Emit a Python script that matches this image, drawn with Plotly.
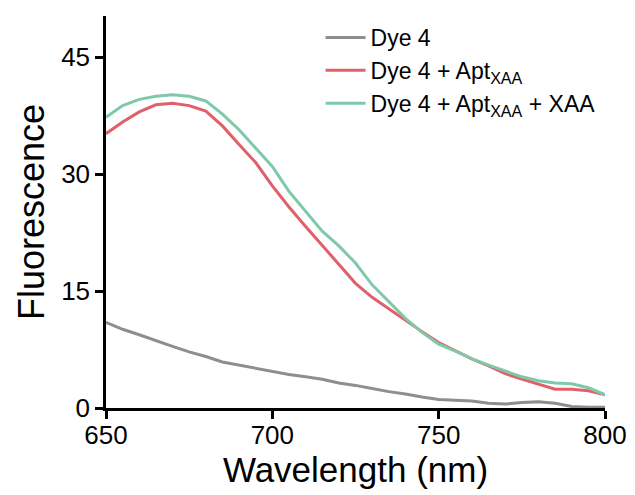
import plotly.graph_objects as go

wavelength = list(range(650, 801, 5))

dye4 = [11.0, 10.1, 9.4, 8.6, 7.9, 7.2, 6.6, 5.9, 5.5, 5.1, 4.7, 4.3, 4.0, 3.7, 3.2, 2.9,
        2.5, 2.1, 1.8, 1.4, 1.1, 1.0, 0.9, 0.6, 0.5, 0.7, 0.8, 0.6, 0.2, 0.1, 0.1]
dye4_apt = [35.2, 36.7, 38.0, 38.9, 39.1, 38.8, 38.1, 36.2, 33.8, 31.5, 28.5, 25.8, 23.3, 20.9,
            18.4, 16.0, 14.2, 12.7, 11.3, 9.8, 8.4, 7.3, 6.3, 5.4, 4.4, 3.7, 3.0, 2.4, 2.4, 2.2, 1.7]
dye4_apt_xaa = [37.3, 38.8, 39.6, 40.0, 40.2, 40.0, 39.4, 37.7, 35.7, 33.4, 31.0, 27.8, 25.2, 22.7,
                20.8, 18.6, 15.8, 13.6, 11.5, 9.7, 8.2, 7.3, 6.3, 5.5, 4.7, 4.0, 3.5, 3.2, 3.1, 2.6, 1.7]

series_names = ["Dye 4", "Dye 4 + Apt<sub>XAA</sub>", "Dye 4 + Apt<sub>XAA</sub> + XAA"]
series_values = [dye4, dye4_apt, dye4_apt_xaa]
colors = ["#8e8e8e", "#e0606a", "#7fc9aa"]

x_ticks = [650, 700, 750, 800]
y_ticks = [0, 15, 30, 45]

fig = go.Figure()
for name, vals, c in zip(series_names, series_values, colors):
    fig.add_trace(go.Scatter(x=wavelength, y=vals, mode="lines", name=name,
                             line=dict(color=c, width=3), cliponaxis=False))

font_family = "Liberation Sans, Arial, sans-serif"
fig.update_layout(
    width=635, height=495,
    margin=dict(l=98, r=38, t=8, b=95),
    plot_bgcolor="white", paper_bgcolor="white",
    font=dict(family=font_family, color="black"),
    showlegend=True,
    legend=dict(x=0.43, y=1.0, xanchor="left", yanchor="top",
                font=dict(size=23, family=font_family, color="black"),
                bgcolor="rgba(0,0,0,0)", tracegroupgap=0, itemwidth=40),
    xaxis=dict(range=[650, 800], tickvals=x_ticks, ticks="outside", ticklen=8, tickwidth=2.5,
               tickcolor="black", showline=True, linecolor="black", linewidth=2.5,
               showgrid=False, zeroline=False, tickfont=dict(size=26),
               ticklabelstandoff=-6,
               title=dict(text="Wavelength (nm)", font=dict(size=35), standoff=0)),
    yaxis=dict(range=[0, 50.3], tickvals=y_ticks, ticks="outside", ticklen=8, tickwidth=2.5,
               tickcolor="black", showline=True, linecolor="black", linewidth=2.5,
               showgrid=False, zeroline=False, tickfont=dict(size=26),
               title=dict(text="Fluorescence", font=dict(size=36), standoff=6)),
)

fig.write_html("out.html")
